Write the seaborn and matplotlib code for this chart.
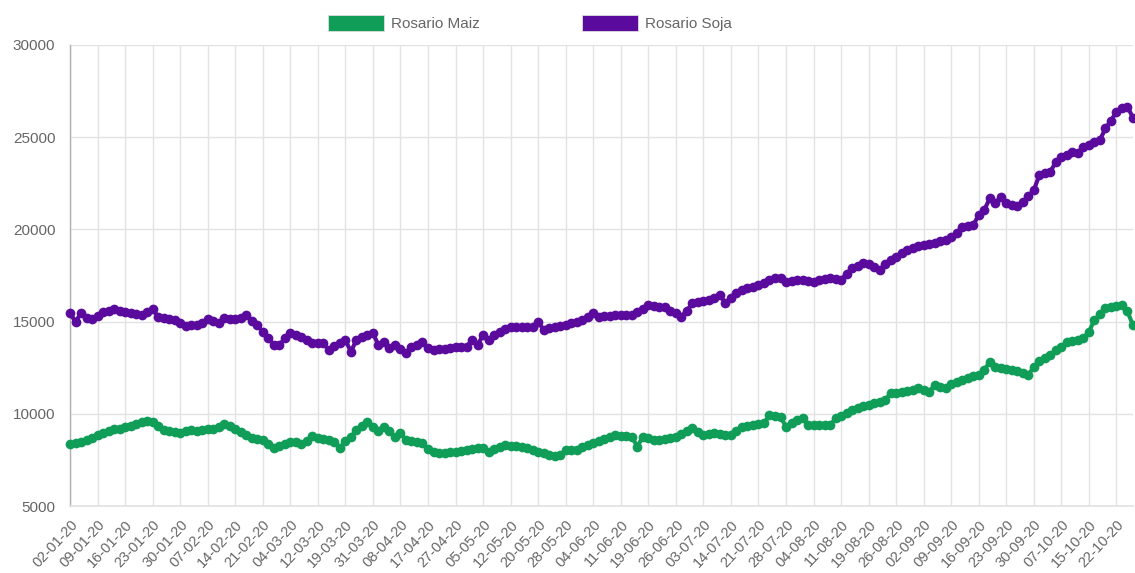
import numpy as np
import pandas as pd
import matplotlib
matplotlib.use('Agg')
import matplotlib.pyplot as plt
from matplotlib.patches import Patch
import seaborn as sns

# precios diarios (ARS/t), 194 ruedas desde 02-01-20
maiz = [8360, 8400, 8480, 8600, 8700, 8850, 8950, 9050, 9150, 9200,
        9300, 9350, 9450, 9570, 9600, 9580, 9350, 9100, 9050, 9000,
        8950, 9050, 9100, 9050, 9100, 9150, 9200, 9300, 9450, 9350,
        9200, 9030, 8850, 8700, 8650, 8600, 8350, 8150, 8250, 8350,
        8490, 8450, 8360, 8550, 8800, 8700, 8620, 8600, 8490, 8150,
        8500, 8760, 9100, 9350, 9570, 9300, 9050, 9300, 9050, 8760,
        8940, 8600, 8500, 8450, 8400, 8100, 7950, 7850, 7900, 7920,
        7950, 7980, 8050, 8100, 8130, 8150, 7950, 8100, 8200, 8310,
        8280, 8250, 8220, 8150, 8050, 7950, 7850, 7780, 7700, 7750,
        8040, 8050, 8040, 8200, 8300, 8400, 8500, 8650, 8750, 8850,
        8800, 8780, 8760, 8220, 8760, 8700, 8580, 8600, 8650, 8700,
        8760, 8900, 9050, 9210, 9000, 8850, 8900, 8940, 8900, 8850,
        8850, 9050, 9300, 9350, 9400, 9450, 9480, 9935, 9900, 9840,
        9300, 9500, 9665, 9750, 9390, 9400, 9380, 9400, 9390, 9750,
        9900, 10050, 10200, 10300, 10400, 10500, 10570, 10650, 10750, 11110,
        11150, 11200, 11250, 11300, 11380, 11300, 11200, 11560, 11450, 11380,
        11600, 11740, 11850, 11950, 12050, 12100, 12375, 12825, 12520, 12500,
        12450, 12375, 12300, 12200, 12100, 12555, 12850, 13000, 13200, 13460,
        13600, 13910, 13950, 14000, 14090, 14450, 15090, 15400, 15720, 15800,
        15850, 15900, 15550, 14800]

soja = [15450, 15000, 15450, 15180, 15125, 15300, 15540, 15600, 15665, 15600,
        15500, 15450, 15400, 15360, 15500, 15670, 15265, 15200, 15150, 15090,
        14900, 14760, 14800, 14815, 14950, 15125, 15050, 14910, 15180, 15150,
        15150, 15180, 15360, 15050, 14815, 14450, 14100, 13730, 13730, 14090,
        14365, 14300, 14180, 14000, 13820, 13850, 13820, 13460, 13650, 13860,
        14000, 13370, 14000, 14150, 14275, 14365, 13730, 13910, 13550, 13730,
        13500, 13280, 13600, 13730, 13910, 13550, 13460, 13500, 13520, 13550,
        13600, 13620, 13640, 14000, 13730, 14275, 14000, 14250, 14450, 14600,
        14700, 14725, 14725, 14725, 14725, 15000, 14545, 14650, 14725, 14780,
        14815, 14900, 15000, 15090, 15250, 15450, 15270, 15300, 15330, 15360,
        15360, 15360, 15360, 15500, 15700, 15900, 15850, 15800, 15775, 15600,
        15450, 15270, 15600, 15990, 16050, 16100, 16170, 16300, 16440, 15990,
        16300, 16535, 16700, 16805, 16900, 16985, 17100, 17250, 17350, 17350,
        17160, 17200, 17250, 17255, 17200, 17160, 17250, 17300, 17350, 17300,
        17255, 17600, 17890, 18000, 18160, 18100, 17950, 17800, 18100, 18340,
        18500, 18700, 18880, 19000, 19100, 19150, 19200, 19245, 19350, 19450,
        19600, 19800, 20150, 20200, 20240, 20780, 21050, 21690, 21415, 21775,
        21415, 21350, 21270, 21500, 21800, 22135, 22950, 23050, 23130, 23670,
        23900, 24050, 24215, 24125, 24485, 24600, 24750, 24850, 25480, 25900,
        26385, 26600, 26655, 26050]

tick_labels = ['02-01-20', '09-01-20', '16-01-20', '23-01-20', '30-01-20',
               '07-02-20', '14-02-20', '21-02-20', '04-03-20', '12-03-20',
               '19-03-20', '31-03-20', '08-04-20', '17-04-20', '27-04-20',
               '05-05-20', '12-05-20', '20-05-20', '28-05-20', '04-06-20',
               '11-06-20', '19-06-20', '26-06-20', '03-07-20', '14-07-20',
               '21-07-20', '28-07-20', '04-08-20', '11-08-20', '19-08-20',
               '26-08-20', '02-09-20', '09-09-20', '16-09-20', '23-09-20',
               '30-09-20', '07-10-20', '15-10-20', '22-10-20']

series = ['Rosario Maiz', 'Rosario Soja']
colores = ['#0F9D58', '#5A0A9C']

n = len(maiz)
df = pd.DataFrame({'dia': list(range(n)) * 2,
                   'precio': maiz + soja,
                   'serie': [series[0]] * n + [series[1]] * n})

sns.set_theme(style='whitegrid')
plt.rcParams['font.family'] = ['Liberation Sans', 'DejaVu Sans']

fig = plt.figure(figsize=(11.35, 5.73), dpi=100)
ax = fig.add_axes([70/1135, 1 - 506/573, 1063/1135, 461/573])

sns.lineplot(data=df, x='dia', y='precio', hue='serie',
             palette=dict(zip(series, colores)), marker='o',
             markersize=7, markeredgewidth=0, linewidth=3,
             legend=False, ax=ax, clip_on=False, zorder=3)

ax.set_xlim(0, n - 1)
ax.set_ylim(5000, 30000)
ax.set_yticks(range(5000, 30001, 5000))
ax.set_xticks(range(0, 5 * len(tick_labels), 5))
ax.set_xticklabels(tick_labels, rotation=47, ha='right', va='top',
                   rotation_mode='anchor')
ax.set_xlabel('')
ax.set_ylabel('')

ax.grid(True, color='#e2e2e2', linewidth=1)
ax.tick_params(axis='both', width=1, color='#e2e2e2', labelcolor='#666666')
ax.tick_params(axis='y', length=9.5, labelsize=11, pad=1)
ax.tick_params(axis='x', length=8, labelsize=10.5, pad=0)
for s in ['top', 'right']:
    ax.spines[s].set_visible(False)
ax.spines['bottom'].set_color('#e2e2e2')
ax.spines['left'].set_color('#b0b0b0')
ax.spines['left'].set_linewidth(1)

handles = [Patch(facecolor=c, edgecolor='#dddddd', linewidth=0.6) for c in colores]
fig.legend(handles, series, loc='center', bbox_to_anchor=(530/1135, 1 - 23/573),
           ncol=2, frameon=False, fontsize=11, labelcolor='#666666',
           handlelength=3.65, handleheight=1.3, handletextpad=0.45,
           columnspacing=6.7)

fig.savefig('out.png', dpi=100)
